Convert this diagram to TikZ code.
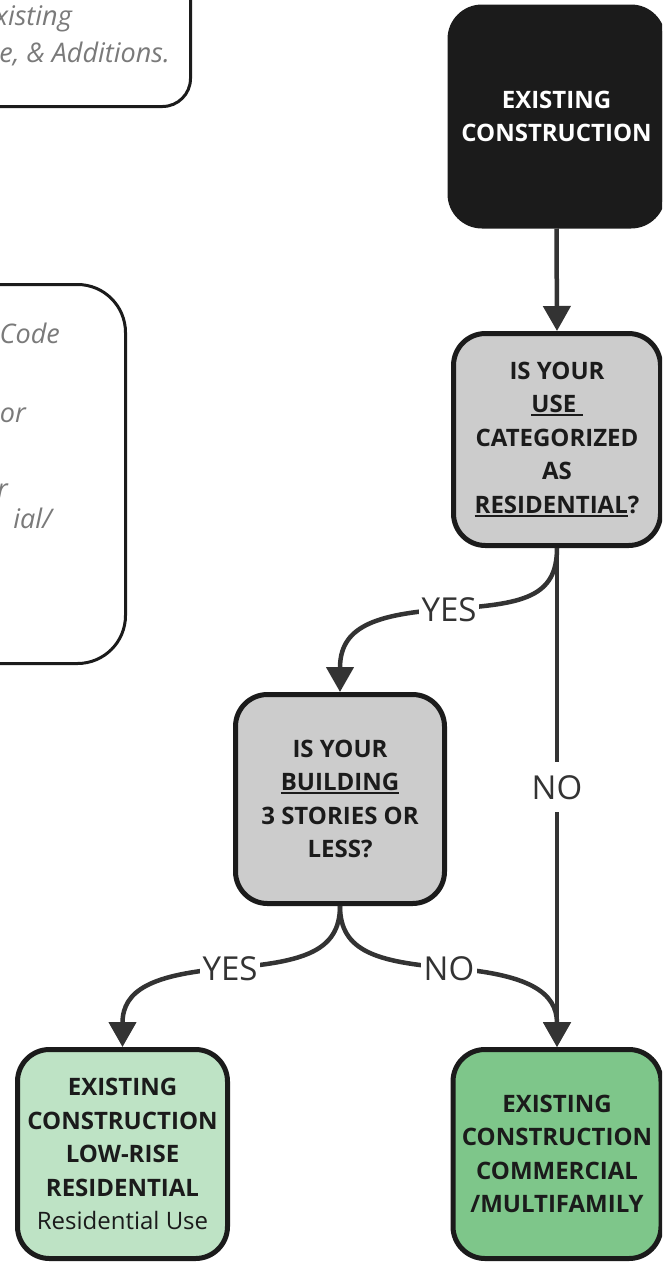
\documentclass[tikz,border=0pt]{standalone}
\usepackage{fontspec}
\setmainfont{Open Sans}
\usetikzlibrary{arrows.meta}

\definecolor{inkline}{HTML}{1B1B1B}
\definecolor{arrowgray}{HTML}{333333}
\definecolor{qgray}{HTML}{CCCCCC}
\definecolor{resgreen}{HTML}{BEE3C5}
\definecolor{comgreen}{HTML}{7EC68A}
\definecolor{notegray}{HTML}{7A7A7A}

% underline with a thicker rule, a little below the baseline
\newcommand\ulword[1]{\setbox0\hbox{#1}\rlap{\rule[-3.5pt]{\wd0}{2pt}}\box0}

\tikzset{
  flowbox/.style={rounded corners=32pt, line width=5pt, draw=inkline,
    align=center, inner sep=0pt,
    font=\bfseries\fontsize{24}{33.5}\selectfont},
  notebox/.style={rounded corners=#1, line width=3pt, draw=inkline, fill=white},
  notetext/.style={anchor=base east, inner sep=0pt, text=notegray,
    font=\itshape\fontsize{27}{32}\selectfont},
  flow/.style={draw=arrowgray, line width=4.5pt,
    -{Triangle[width=27pt,length=25pt]}},
  flowline/.style={draw=arrowgray, line width=4.5pt},
  answer/.style={fill=white, text=arrowgray, inner xsep=3pt, inner ysep=3pt,
    text height=34pt, text depth=10pt,
    font=\fontsize{33}{36}\selectfont},
}

\begin{document}
\begin{tikzpicture}[x=1pt, y=-1pt]
\useasboundingbox (0,0) rectangle (662,1262);
\clip (0,0) rectangle (662,1262);

% side notes, running off the left edge
\draw[notebox=28pt] (-60,-60) rectangle (190.5,106.5);
\node[notetext] (n1a) at (72,25) {xisting};
\node[notetext] (n1b) at (170,62) {e, \& Additions.};

\draw[notebox=48pt] (-60,284.5) rectangle (125.5,663.5);
\node[notetext] (n2a) at (60,343) {Code};
\node[notetext] (n2b) at (26,422) {or};
\node[notetext] (n2c) at (8,498) {r};
\node[notetext] (n2d) at (52,528) {ial/};

% decision boxes
\node[flowbox, fill=inkline, text=white, minimum width=213pt, minimum height=219pt]
  (start) at (556.5,116.5) {EXISTING\\CONSTRUCTION};
\node[flowbox, fill=qgray, text=inkline, minimum width=207pt, minimum height=212pt]
  (use) at (557,439.5) {IS YOUR\\\ulword{USE\ }\\CATEGORIZED\\AS\\\ulword{RESIDENTIAL}?};
\node[flowbox, fill=qgray, text=inkline, minimum width=209pt, minimum height=209pt]
  (height) at (340,799) {IS YOUR\\\ulword{BUILDING}\\3 STORIES OR\\LESS?};
\node[flowbox, fill=resgreen, text=inkline, minimum width=210pt, minimum height=209pt]
  (lowrise) at (122.5,1154) {EXISTING\\CONSTRUCTION\\LOW-RISE\\RESIDENTIAL\\{\mdseries Residential Use}};
\node[flowbox, fill=comgreen, text=inkline, minimum width=208pt, minimum height=209pt]
  (commercial) at (557,1154) {EXISTING\\CONSTRUCTION\\COMMERCIAL\\/MULTIFAMILY};

% connectors
\draw[flow] (start.south) -- (use.south |- use.north);

\coordinate (yesA) at (449,609);
\draw[flowline] (use.south) .. controls (557,598) and (522,604) .. (yesA);
\draw[flow] (yesA) .. controls (372,614) and (340,628) .. (height.north);
\node[answer] (yesAlbl) at (yesA) {YES};

\draw[flow] (use.south) -- (commercial.north);
\node[answer] (noAlbl) at (557,787) {NO};

\coordinate (yesB) at (230,968);
\coordinate (noB) at (449,968);
\draw[flowline] (height.south) .. controls (340,952) and (302,962) .. (yesB);
\draw[flow] (yesB) .. controls (152,974) and (122.5,990) .. (lowrise.north);
\draw[flowline] (height.south) .. controls (340,952) and (378,962) .. (noB);
\draw[flow] (noB) .. controls (528,974) and (557,992) .. (commercial.north);
\node[answer] (yesBlbl) at (yesB) {YES};
\node[answer] (noBlbl) at (noB) {NO};
\end{tikzpicture}
\end{document}
